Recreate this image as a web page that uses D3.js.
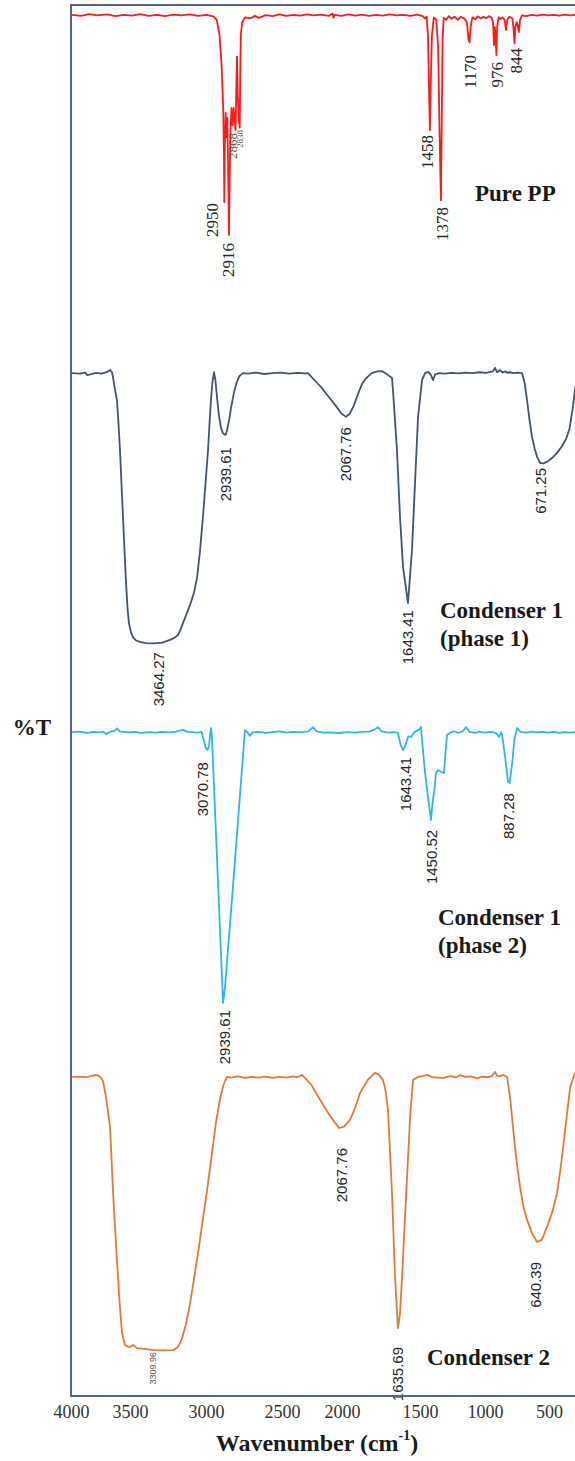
<!DOCTYPE html>
<html>
<head>
<meta charset="utf-8">
<script src="https://cdn.jsdelivr.net/npm/d3@7"></script>
<style>
    html, body { margin: 0; padding: 0; background: #fff; }
    svg { display: block; }
</style>
</head>
<body>
<script>

// spectra, [wavenumber cm-1, %T]
var purePP = [
    [4055,98],[3990,97.6],[3930,98.3],[3870,97.8],[3800,98.2],[3740,97.5],[3680,98],[3620,97.7],
    [3560,98.3],[3500,97.6],[3440,98],[3380,97.5],[3320,98.1],[3260,97.8],[3200,98.2],[3140,97.6],
    [3080,98],[3030,97.4],[3005,96],[2985,90],[2970,78],[2958,60],[2952,40],[2950,21.6],[2946,45],
    [2940,58],[2934,48],[2928,56],[2922,35],[2916,8.2],[2910,35],[2905,51],[2898,60],[2890,53],
    [2882,60],[2875,55],[2868,51],[2862,70],[2858,81],[2852,65],[2845,55],[2838,52],[2834,75],
    [2830,90],[2820,95],[2800,97],[2760,96.6],[2727,97.6],[2700,96.8],[2650,97.9],[2600,97.5],
    [2550,98.2],[2500,97.6],[2450,98],[2400,97.7],[2350,98.2],[2300,97.8],[2250,98.1],[2190,97.6],
    [2165,98.6],[2158,96.8],[2150,98],[2100,97.6],[2050,98.2],[2000,97.7],[1950,98.1],[1900,97.6],
    [1850,98],[1800,97.7],[1750,98.2],[1700,97.8],[1650,98],[1600,97.6],[1550,98.1],[1510,97.5],
    [1493,96.5],[1482,97.3],[1472,90],[1465,70],[1458,51],[1451,72],[1443,90],[1430,97],[1412,96],
    [1398,85],[1388,50],[1378,22.4],[1372,55],[1366,88],[1358,96.8],[1340,96],[1320,97.5],[1300,96.4],
    [1280,97.3],[1255,96],[1235,97.2],[1210,96.6],[1190,95],[1178,88],[1170,86.8],[1163,93],[1150,97],
    [1130,96.2],[1110,97.4],[1090,96.5],[1070,97.2],[1050,96.6],[1030,97.5],[1010,96.8],[1000,95],
    [993,85.7],[988,93],[981,90],[976,81.6],[970,93],[960,97],[945,96.3],[930,97],[915,95.8],[906,91.8],
    [897,96],[880,97.3],[860,96.5],[852,93],[844,86.5],[838,93],[830,95],[822,94],[812,91],[804,96],
    [790,97.8],[760,97.5],[720,98],[680,97.7],[640,98.1],[600,97.8],[560,98],[520,97.7],[480,98.1],
    [440,97.8],[405,98]
];

var condenser1Phase1 = [
    [4055,97.2],[4000,97],[3960,97.4],[3945,96.5],[3920,96.8],[3880,97.3],[3840,97],[3800,97.6],
    [3779,98.3],[3765,97.5],[3758,95.9],[3745,92],[3729,87.9],[3718,80],[3707,70.7],[3696,59],
    [3685,47.6],[3674,36],[3663,24.8],[3652,16],[3642,11],[3628,8],[3613,6.2],[3590,5],[3562,4.5],
    [3520,4.1],[3464,4],[3400,4.3],[3344,5.2],[3310,6],[3286,6.9],[3270,8.5],[3250,11],[3225,14],
    [3199,17.2],[3170,21.5],[3148,26.5],[3126,36],[3105,47.6],[3085,60],[3068,70.7],[3057,80],
    [3047,87.9],[3036,94],[3025,97.5],[3015,95],[3005,90],[2990,83],[2975,78.5],[2960,76.5],
    [2940,75.9],[2930,77.5],[2915,81],[2900,85.5],[2880,90.5],[2860,94],[2840,96.2],[2814,97.2],
    [2780,97],[2720,97.4],[2660,96.9],[2600,97.2],[2540,97.4],[2480,97],[2420,97.3],[2370,97.1],
    [2343,97.2],[2300,95],[2250,92.5],[2200,89.5],[2150,86.5],[2100,83.3],[2067,82.1],[2040,83.2],
    [2010,86],[1980,90],[1950,93.5],[1920,95.5],[1880,97.2],[1840,97.8],[1806,97.9],[1763,96.6],
    [1733,95.5],[1726,91.4],[1697,70.7],[1675,47.6],[1653,30.3],[1617,17.9],[1588,36.2],[1566,59.3],
    [1544,82.1],[1515,94.8],[1493,97.2],[1470,97.6],[1450,96.5],[1435,94.8],[1420,96.8],[1390,97.2],
    [1350,97],[1300,97.3],[1250,97.1],[1200,97.4],[1150,97.2],[1100,97.5],[1050,97.3],[1000,97.8],
    [986,99],[970,97.5],[950,98.2],[930,97.4],[910,97.8],[898,97.3],[880,97.5],[850,97.2],[820,97.4],
    [789,97.2],[771,94],[753,87.9],[735,81],[717,75.2],[698,71.2],[680,68.3],[658,66.2],[635,66.1],
    [608,66.6],[570,68],[535,69.7],[500,72],[470,74.5],[445,78],[425,84],[405,91.4],[400,93]
];

var condenser1Phase2 = [
    [4055,97.5],[4000,97.7],[3950,97.2],[3900,97.6],[3860,97.4],[3830,97.7],[3808,96.8],[3780,97.6],
    [3745,98],[3728,98.8],[3710,97.8],[3650,97.4],[3600,97.6],[3550,97.2],[3500,97.5],[3450,97.3],
    [3400,97.6],[3350,97.4],[3300,97.7],[3260,98.2],[3248,98.3],[3220,97.6],[3180,97.5],[3140,97.3],
    [3115,97.6],[3100,95],[3085,92],[3071,91.2],[3060,93],[3052,97],[3046,98.9],[3040,96],[2959,2.5],
    [2945,8],[2900,35.3],[2850,66.8],[2800,98.2],[2785,97.6],[2765,96.2],[2745,97.4],[2700,97.6],
    [2650,97.2],[2600,97.5],[2550,97.8],[2500,97.3],[2450,97.6],[2400,97.4],[2340,97.8],[2306,99.2],
    [2280,97.8],[2230,97.3],[2180,97.4],[2120,97.2],[2060,97.5],[2000,97.3],[1950,97.6],[1900,97.7],
    [1860,98.4],[1834,99.2],[1810,97.8],[1760,97.3],[1720,97.5],[1690,97.2],[1670,93],[1653,91.2],
    [1635,93],[1615,96],[1596,95.8],[1570,97.5],[1540,98.3],[1523,99.3],[1510,92],[1493,83.2],
    [1470,74],[1450,66.7],[1438,73],[1425,77.2],[1414,83.2],[1399,84.2],[1375,83.5],[1356,83.2],
    [1345,90],[1334,96.5],[1310,97.3],[1280,97.8],[1250,97.2],[1220,97.8],[1196,99.3],[1170,97.6],
    [1130,97.2],[1100,97.7],[1060,97.3],[1020,97.6],[990,97.4],[970,96.8],[957,95.8],[940,97.4],
    [934,96.5],[910,88],[891,80],[880,79.6],[860,87],[845,95],[825,98.9],[800,97.6],[760,97.3],
    [720,97.7],[680,97.4],[640,97.6],[600,97.3],[560,97.6],[520,97.2],[480,97.5],[440,97.3],[405,97.5]
];

var condenser2 = [
    [4055,97.6],[4000,97.6],[3950,97.5],[3920,97.9],[3881,98.3],[3855,97.8],[3840,97],[3830,96.2],
    [3810,91],[3795,86],[3779,80.3],[3757,57.6],[3729,34.5],[3710,20],[3692,9.3],[3671,5.2],
    [3650,4.6],[3634,4.5],[3612,5.2],[3583,4.1],[3530,3.8],[3467,3.4],[3400,3.3],[3322,3.4],
    [3286,4.5],[3260,7],[3230,12],[3200,19],[3170,28],[3140,37],[3110,47],[3075,58.6],[3040,71],
    [3010,82],[2981,90],[2955,95],[2930,97.6],[2900,97.4],[2850,97.8],[2800,97.3],[2750,97.6],
    [2700,97.4],[2650,97.7],[2600,97.3],[2550,97.6],[2500,97.4],[2450,97.8],[2420,97.5],[2386,98.3],
    [2320,95],[2255,89.7],[2180,84],[2117,80],[2080,80.5],[2038,82.8],[2000,87],[1965,92.1],
    [1910,96.5],[1857,99],[1830,98.5],[1799,96.6],[1780,93],[1762,86.2],[1733,57.6],[1711,28.6],
    [1690,11],[1675,16],[1660,28.6],[1624,63.1],[1600,85],[1580,96.6],[1544,97.6],[1510,97.9],
    [1478,98.3],[1440,97.5],[1400,97.4],[1362,97.2],[1330,97.7],[1300,97.9],[1270,97.4],[1239,98.2],
    [1200,97.6],[1160,97.8],[1116,97.1],[1080,97.7],[1040,97.5],[1010,97.8],[986,99.3],[970,98],
    [950,97.8],[925,98.3],[898,97.6],[875,90],[855,80.3],[830,69],[804,59.7],[780,53],[753,48.3],
    [715,43.5],[680,40.7],[645,41.5],[608,45.9],[570,51],[535,57.6],[510,66],[491,73.4],[465,84],
    [440,94.1],[405,99]
];

// peak labels: [text, wavenumber, %T at top of label]
var purePPPeaks = [
    ["2950",3039,21.2],["2916",2923,4.9],["2868",2887,49.8],["2838",2836,51],
    ["1458",1479,49],["1378",1363,19.6],["1170",1167,81.6],["976",971,78.8],["844",826,84.5]
];
var phase1Peaks = [
    ["3464.27",3431,1],["2939.61",2938,71.7],["2067.76",2067,78.6],["1643.41",1617,15.5],["671.25",658,64.5]
];
var phase2Peaks = [
    ["3070.78",3105,87],["2939.61",2952,0],["1643.41",1637,88.8],["1450.52",1450,63.2],["887.28",891,76.1]
];
var condenser2Peaks = [
    ["3309.96",3467,2.8],["2067.76",2103,73.1],["1635.69",1690,4.5],["640.39",694,33.8]
];

var tickValues = [4000, 3500, 3000, 2500, 2000, 1500, 1000, 500];

var W = 575, H = 1461;
var frame = { left: 71, top: 5, bottom: 1396, right: 575 };
var tickPositions = [71, 130, 206, 282, 342, 420, 485, 549];
var smallLabels = { "2868": 13, "2838": 9, "3309.96": 9 };

var panels = [
    { data: purePP, peaks: purePPPeaks, color: "#ff1a1a", range: [255, 10],
      peakFont: "Liberation Serif", peakSize: 17, name: ["Pure PP"], nameX: 475, nameY: 193 },
    { data: condenser1Phase1, peaks: phase1Peaks, color: "#44546a", range: [655, 365],
      peakFont: "Liberation Sans", peakSize: 15, name: ["Condenser 1", "(phase 1)"], nameX: 440, nameY: 610 },
    { data: condenser1Phase2, peaks: phase2Peaks, color: "#2fb4ee", range: [1010, 725],
      peakFont: "Liberation Sans", peakSize: 15, name: ["Condenser 1", "(phase 2)"], nameX: 438, nameY: 917 },
    { data: condenser2, peaks: condenser2Peaks, color: "#e0793a", range: [1360, 1070],
      peakFont: "Liberation Sans", peakSize: 15, name: ["Condenser 2"], nameX: 427, nameY: 1357 }
];

var svg = d3.select("body").append("svg")
    .attr("width", W)
    .attr("height", H)
    .style("background", "#fff");

var x = d3.scaleLinear()
    .domain([4000, 400])
    .range([79.6, 575.7]);

// printed tick labels are not evenly spaced in the figure
var xTicks = d3.scaleLinear()
    .domain(tickValues)
    .range(tickPositions);

panels.forEach(function (p) {

    var y = d3.scaleLinear()
        .domain([0, 100])
        .range(p.range);

    svg.append("path")
        .datum(p.data)
        .attr("fill", "none")
        .attr("stroke", p.color)
        .attr("stroke-width", 1.8)
        .attr("stroke-linejoin", "round")
        .attr("d", d3.line()
            .x(function (d) { return x(d[0]); })
            .y(function (d) { return y(d[1]); }));

    svg.append("g")
        .selectAll("text")
        .data(p.peaks)
        .join("text")
            .attr("transform", function (d) { return "translate(" + x(d[1]) + "," + y(d[2]) + ") rotate(-90)"; })
            .attr("text-anchor", "end")
            .attr("dominant-baseline", "central")
            .style("font-family", p.peakFont)
            .style("font-size", function (d) { return (smallLabels[d[0]] || p.peakSize) + "px"; })
            .style("fill", function (d) { return smallLabels[d[0]] ? "#555" : "#262626"; })
            .text(function (d) { return d[0]; });

    svg.append("g")
        .selectAll("text")
        .data(p.name)
        .join("text")
            .attr("x", p.nameX)
            .attr("y", function (d, i) { return p.nameY + i * 28; })
            .attr("dominant-baseline", "central")
            .style("font-family", "Liberation Serif")
            .style("font-weight", "bold")
            .style("font-size", "23px")
            .style("fill", "#1a1a1a")
            .text(function (d) { return d; });
});

// frame: left, top and bottom edges only
svg.append("path")
    .attr("fill", "none")
    .attr("stroke", "#566581")
    .attr("stroke-width", 2)
    .attr("d", "M" + frame.right + "," + frame.top + "H" + frame.left +
        "V" + frame.bottom + "H" + frame.right);

var axis = svg.append("g")
    .attr("transform", "translate(0," + frame.bottom + ")")
    .call(d3.axisBottom(xTicks)
        .tickValues(tickValues)
        .tickFormat(d3.format("d"))
        .tickSize(0)
        .tickPadding(10));

axis.select(".domain").remove();
axis.selectAll("text")
    .attr("dy", "0.35em")
    .attr("y", 16)
    .style("font-family", "Liberation Serif")
    .style("font-size", "18px")
    .style("fill", "#333");

svg.append("text")
    .attr("x", 32)
    .attr("y", 727)
    .attr("text-anchor", "middle")
    .attr("dominant-baseline", "central")
    .style("font-family", "Liberation Serif")
    .style("font-weight", "bold")
    .style("font-size", "23px")
    .style("fill", "#1a1a1a")
    .text("%T");

var title = svg.append("text")
    .attr("x", 317)
    .attr("y", 1443)
    .attr("text-anchor", "middle")
    .attr("dominant-baseline", "central")
    .style("font-family", "Liberation Serif")
    .style("font-weight", "bold")
    .style("font-size", "24px")
    .style("fill", "#1a1a1a");

title.append("tspan").text("Wavenumber (cm");
title.append("tspan").attr("dy", -8).style("font-size", "14px").text("-1");
title.append("tspan").attr("dy", 8).text(")");

</script>
</body>
</html>
